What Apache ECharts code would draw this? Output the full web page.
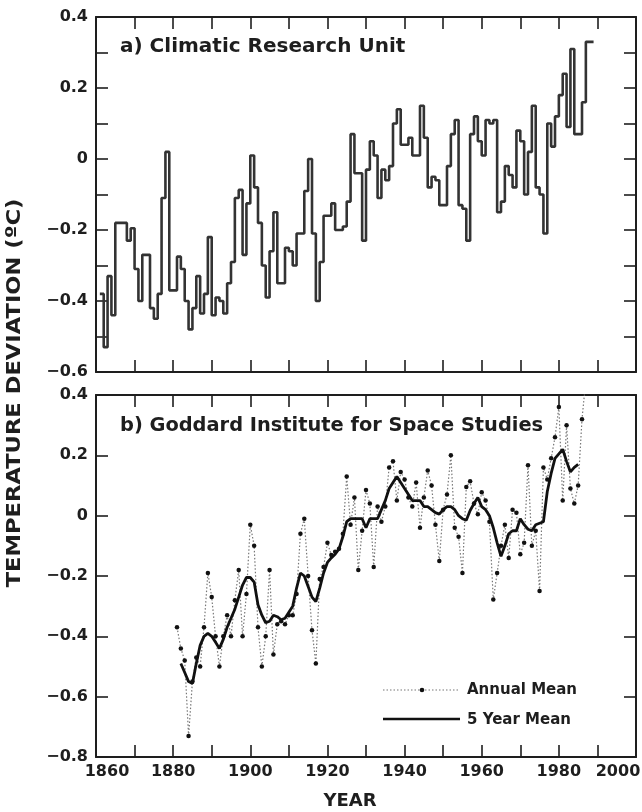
<!DOCTYPE html>
<html>
<head>
<meta charset="utf-8">
<script src="https://cdn.jsdelivr.net/npm/echarts@6/dist/echarts.min.js"></script>
<style>
  html, body { margin: 0; padding: 0; background: #fff; }
  #chart { width: 642px; height: 812px; }
</style>
</head>
<body>
<div id="chart"></div>
<script>
// Panel a: Climatic Research Unit annual anomalies (°C), one value per year from cruStartYear
const cruStartYear = 1861;
const cruValues = [
  -0.38, -0.53, -0.33, -0.44, -0.18, -0.18, -0.18, -0.23, -0.195, -0.31,
  -0.40, -0.27, -0.27, -0.42, -0.45, -0.38, -0.11, 0.02, -0.37, -0.37,
  -0.275, -0.31, -0.40, -0.48, -0.42, -0.33, -0.435, -0.38, -0.22, -0.44,
  -0.39, -0.40, -0.435, -0.35, -0.29, -0.11, -0.087, -0.27, -0.125, 0.01,
  -0.08, -0.18, -0.30, -0.39, -0.26, -0.15, -0.35, -0.35, -0.25, -0.26,
  -0.30, -0.21, -0.21, -0.09, 0.00, -0.21, -0.40, -0.29, -0.16, -0.16,
  -0.125, -0.20, -0.20, -0.19, -0.12, 0.07, -0.04, -0.04, -0.23, -0.03,
  0.05, 0.01, -0.11, -0.03, -0.06, -0.02, 0.10, 0.14, 0.04, 0.04,
  0.06, 0.01, 0.01, 0.15, 0.06, -0.08, -0.05, -0.06, -0.13, -0.13,
  -0.02, 0.07, 0.11, -0.13, -0.14, -0.23, 0.07, 0.12, 0.05, 0.01,
  0.11, 0.10, 0.11, -0.15, -0.12, -0.02, -0.045, -0.08, 0.08, 0.05,
  -0.10, 0.02, 0.15, -0.08, -0.10, -0.21, 0.10, 0.035, 0.12, 0.18,
  0.24, 0.09, 0.31, 0.07, 0.07, 0.16, 0.33, 0.33
];

// Panel b: Goddard Institute for Space Studies annual means (°C), from gissStartYear
const gissStartYear = 1881;
const gissAnnual = [
  -0.37, -0.44, -0.48, -0.73, -0.55, -0.47, -0.50, -0.37, -0.19, -0.27,
  -0.40, -0.50, -0.40, -0.33, -0.40, -0.28, -0.18, -0.40, -0.26, -0.03,
  -0.10, -0.37, -0.50, -0.40, -0.18, -0.46, -0.36, -0.35, -0.36, -0.33,
  -0.33, -0.26, -0.06, -0.01, -0.20, -0.38, -0.49, -0.21, -0.17, -0.09,
  -0.13, -0.12, -0.11, -0.06, 0.13, -0.03, 0.06, -0.18, -0.05, 0.085,
  0.04, -0.17, 0.03, -0.02, 0.03, 0.16, 0.18, 0.05, 0.145, 0.12,
  0.06, 0.03, 0.11, -0.04, 0.06, 0.15, 0.10, -0.03, -0.15, 0.02,
  0.07, 0.20, -0.04, -0.07, -0.19, 0.095, 0.114, 0.04, 0.005, 0.078,
  0.05, -0.02, -0.278, -0.19, -0.10, -0.03, -0.14, 0.02, 0.01, -0.128,
  -0.09, 0.167, -0.10, -0.05, -0.25, 0.16, 0.12, 0.19, 0.26, 0.36,
  0.05, 0.30, 0.09, 0.04, 0.10, 0.32, 0.45
];

// Panel b: 5 year running mean (°C), from fiveYearStart
const fiveYearStart = 1882;
const fiveYearMean = [
  -0.49, -0.52, -0.55, -0.556, -0.49, -0.43, -0.40, -0.39, -0.40, -0.42,
  -0.44, -0.41, -0.37, -0.34, -0.31, -0.27, -0.23, -0.205, -0.205, -0.22,
  -0.295, -0.33, -0.355, -0.35, -0.33, -0.335, -0.345, -0.34, -0.32, -0.30,
  -0.24, -0.19, -0.20, -0.235, -0.27, -0.285, -0.24, -0.19, -0.155, -0.14,
  -0.128, -0.11, -0.07, -0.02, -0.01, -0.01, -0.01, -0.01, -0.04, -0.01,
  -0.01, -0.01, 0.02, 0.05, 0.09, 0.11, 0.13, 0.11, 0.09, 0.07,
  0.05, 0.05, 0.05, 0.03, 0.03, 0.02, 0.01, 0.005, 0.02, 0.03,
  0.03, 0.02, 0.0, -0.01, -0.015, 0.017, 0.04, 0.06, 0.03, 0.02,
  0.0, -0.04, -0.09, -0.135, -0.10, -0.06, -0.05, -0.05, -0.01, -0.03,
  -0.045, -0.05, -0.03, -0.025, -0.02, 0.08, 0.14, 0.19, 0.205, 0.22,
  0.18, 0.145, 0.16, 0.17
];

// Axis tick labels
const yearLabels = [1860, 1880, 1900, 1920, 1940, 1960, 1980, 2000];
const panelATicks = [0.4, 0.2, 0, -0.2, -0.4, -0.6];
const panelBTicks = [0.4, 0.2, 0, -0.2, -0.4, -0.6, -0.8];

const INK = '#1e1e1e';
const FONT = '"DejaVu Sans"';

function fmtNum(v) {
  const r = Math.round(v * 10) / 10;
  if (r === 0) return '0';
  return (r < 0 ? '\u2212' : '') + Math.abs(r).toFixed(1);
}
function inList(list, v) {
  return list.some(t => Math.abs(t - v) < 1e-6);
}
// Year labels; the two end labels are nudged inward so they stay inside the frame
function yearLabel(v) {
  if (!inList(yearLabels, v)) return '';
  if (v === yearLabels[0]) return '{first|' + v + '}';
  if (v === yearLabels[yearLabels.length - 1]) return '{last|' + v + '}';
  return String(v);
}

// Step data: each year's value is held until the next year
const cruData = cruValues.map((v, i) => [cruStartYear + i, v]);
cruData.push([cruStartYear + cruValues.length, cruValues[cruValues.length - 1]]);
const annualData = gissAnnual.map((v, i) => [gissStartYear + i, v]);
const fiveData = fiveYearMean.map((v, i) => [fiveYearStart + i, v]);

const tickStyle = { show: true, inside: true, length: 12, lineStyle: { color: INK, width: 1.6 } };
const lineAxis = { show: true, onZero: false, lineStyle: { color: INK, width: 2 } };
const labelFont = { color: INK, fontFamily: FONT, fontWeight: 'bold', fontSize: 16 };

function xAxisDef(grid, pos, labels) {
  return {
    type: 'value', gridIndex: grid, position: pos, min: 1860, max: 2000, interval: 10,
    axisLine: lineAxis, axisTick: tickStyle, splitLine: { show: false },
    axisLabel: labels ? Object.assign({
      show: true, margin: 7, formatter: yearLabel,
      rich: {
        first: Object.assign({ padding: [0, 0, 0, 22] }, labelFont),
        last: Object.assign({ padding: [0, 36, 0, 0] }, labelFont)
      }
    }, labelFont) : { show: false }
  };
}
function yAxisDef(grid, pos, min, max, step, labelList) {
  return {
    type: 'value', gridIndex: grid, position: pos, min: min, max: max, interval: step,
    axisLine: lineAxis, axisTick: tickStyle, splitLine: { show: false },
    axisLabel: labelList ? Object.assign({
      show: true, margin: 8,
      formatter: v => inList(labelList, v) ? fmtNum(v) : ''
    }, labelFont) : { show: false }
  };
}

const chart = echarts.init(document.getElementById('chart'), null, { renderer: 'canvas' });
chart.setOption({
  animation: false,
  backgroundColor: '#fff',
  grid: [
    { left: 96, right: 6, top: 17, height: 355, outerBoundsMode: 'none', containLabel: false },
    { left: 96, right: 6, top: 395, height: 362, outerBoundsMode: 'none', containLabel: false }
  ],
  xAxis: [
    xAxisDef(0, 'bottom', false),
    xAxisDef(0, 'top', false),
    xAxisDef(1, 'bottom', true),
    xAxisDef(1, 'top', false)
  ],
  yAxis: [
    yAxisDef(0, 'left', -0.6, 0.4, 0.1, panelATicks),
    yAxisDef(0, 'right', -0.6, 0.4, 0.1, null),
    yAxisDef(1, 'left', -0.8, 0.4, 0.2, panelBTicks),
    yAxisDef(1, 'right', -0.8, 0.4, 0.2, null)
  ],
  series: [
    {
      name: 'Climatic Research Unit', type: 'line', xAxisIndex: 0, yAxisIndex: 0,
      step: 'end', data: cruData, symbol: 'none',
      lineStyle: { color: '#333', width: 2.6 }
    },
    {
      name: 'Annual Mean', type: 'line', xAxisIndex: 2, yAxisIndex: 2,
      data: annualData, symbol: 'circle', symbolSize: 4.5,
      itemStyle: { color: '#111' },
      lineStyle: { color: '#777', width: 1.2, type: [1.5, 2] }
    },
    {
      name: '5 Year Mean', type: 'line', xAxisIndex: 2, yAxisIndex: 2,
      data: fiveData, symbol: 'none',
      lineStyle: { color: '#111', width: 2.8 }
    }
  ],
  graphic: [
    {
      type: 'text', left: 120, top: 37,
      style: { text: 'a) Climatic Research Unit', fill: INK, font: 'bold 20px ' + FONT }
    },
    {
      type: 'text', left: 120, top: 416,
      style: { text: 'b) Goddard Institute for Space Studies', fill: INK, font: 'bold 19.4px ' + FONT }
    },
    // legend, lower right of panel b
    {
      type: 'line', shape: { x1: 383, y1: 690, x2: 460, y2: 690 },
      style: { stroke: '#777', lineWidth: 1.2, lineDash: [1.5, 2] }
    },
    { type: 'circle', shape: { cx: 422, cy: 690, r: 2.3 }, style: { fill: '#111' } },
    {
      type: 'text', x: 467, y: 690,
      style: { text: 'Annual Mean', fill: INK, font: 'bold 15px ' + FONT, verticalAlign: 'middle' }
    },
    {
      type: 'line', shape: { x1: 383, y1: 719, x2: 460, y2: 719 },
      style: { stroke: '#111', lineWidth: 2.6 }
    },
    {
      type: 'text', x: 467, y: 720,
      style: { text: '5 Year Mean', fill: INK, font: 'bold 15px ' + FONT, verticalAlign: 'middle' }
    },
    {
      type: 'text', x: 5, y: 393, rotation: Math.PI / 2, scaleX: 1.13,
      style: {
        text: 'TEMPERATURE DEVIATION (\u00baC)', fill: INK,
        font: 'bold 20px ' + FONT, align: 'center', verticalAlign: 'top'
      }
    },
    {
      type: 'text', x: 350, y: 792,
      style: { text: 'YEAR', fill: INK, font: 'bold 18px ' + FONT, align: 'center', verticalAlign: 'top' }
    }
  ]
});
</script>
</body>
</html>
